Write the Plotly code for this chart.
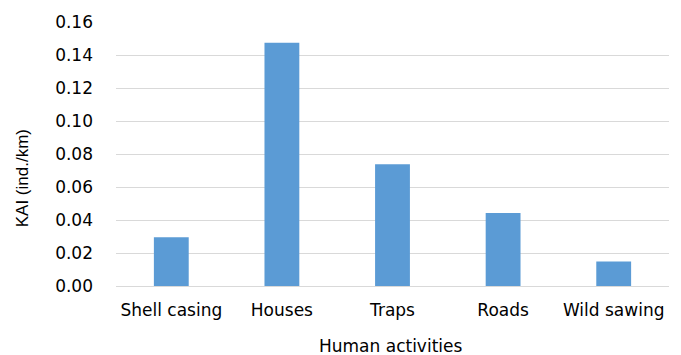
import plotly.graph_objects as go

categories = ["Shell casing", "Houses", "Traps", "Roads", "Wild sawing"]
kai_values = [0.0295, 0.1474, 0.0738, 0.0442, 0.0148]
y_ticks = [0.00, 0.02, 0.04, 0.06, 0.08, 0.10, 0.12, 0.14, 0.16]

wide_font = "DejaVu Sans, Verdana, sans-serif"
narrow_font = "Liberation Sans, Arial, sans-serif"

fig = go.Figure(
    go.Bar(
        x=categories,
        y=kai_values,
        marker=dict(color="#5B9BD5", line=dict(width=0)),
    )
)

fig.update_layout(
    width=681,
    height=355,
    margin=dict(l=116, r=12, t=22, b=69),
    plot_bgcolor="white",
    paper_bgcolor="white",
    bargap=0.685,
    showlegend=False,
    font=dict(family=wide_font, size=17, color="#000000"),
)

fig.update_xaxes(
    showgrid=False,
    showline=False,
    ticks="",
    tickfont=dict(family=wide_font, size=17),
    ticklabelstandoff=12,
)

fig.update_yaxes(
    range=[0, 0.16],
    tickvals=y_ticks,
    ticktext=[f"{v:.2f}" for v in y_ticks],
    showgrid=True,
    gridcolor="#D9D9D9",
    gridwidth=1.3,
    zeroline=True,
    zerolinecolor="#D9D9D9",
    zerolinewidth=1.3,
    showline=False,
    ticks="",
    tickfont=dict(family=wide_font, size=17),
    ticklabelstandoff=22,
)

fig.add_annotation(
    text="KAI (ind./km)",
    xref="paper", yref="paper",
    x=-0.17, y=0.408,
    xanchor="center", yanchor="middle",
    textangle=-90,
    showarrow=False,
    font=dict(family=narrow_font, size=17),
)

fig.add_annotation(
    text="Human activities",
    xref="paper", yref="paper",
    x=0.497, y=-0.227,
    xanchor="center", yanchor="middle",
    showarrow=False,
    font=dict(family=wide_font, size=17),
)

fig.write_html("out.html")
